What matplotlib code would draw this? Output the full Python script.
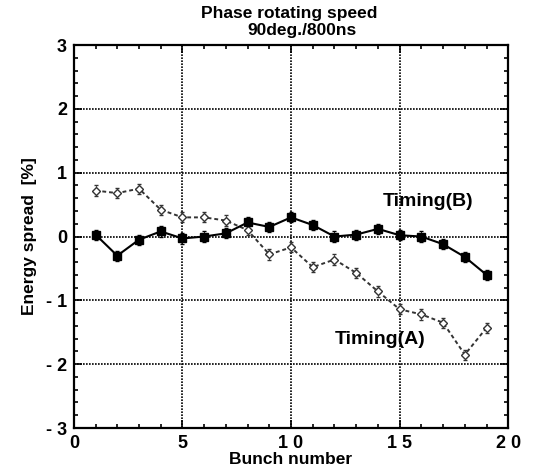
import matplotlib.pyplot as plt
from matplotlib.ticker import MultipleLocator

bunch = list(range(1, 20))
timing_a = [0.72, 0.68, 0.75, 0.42, 0.30, 0.30, 0.25, 0.10, -0.28, -0.17,
            -0.48, -0.36, -0.57, -0.86, -1.14, -1.22, -1.35, -1.85, -1.43]
timing_b = [0.03, -0.30, -0.05, 0.08, -0.03, 0.00, 0.05, 0.22, 0.15, 0.30,
            0.18, 0.00, 0.03, 0.12, 0.02, 0.00, -0.12, -0.32, -0.60]
err_a = [0.08] * 19
err_b = [0.08] * 19

plt.rcParams["font.family"] = ["Liberation Sans", "DejaVu Sans"]
plt.rcParams["font.weight"] = "bold"

fig = plt.figure(figsize=(5.35, 4.74), dpi=100)
ax = fig.add_axes([0.138, 0.097, 0.812, 0.808])

ax.errorbar(bunch, timing_a, yerr=err_a, color="#333333", ls=(0, (2, 1.5)), lw=1.4,
            marker="D", ms=4, mfc="white", mec="#333333", capsize=1.5, elinewidth=0.6)
ax.errorbar(bunch, timing_b, yerr=err_b, color="black", ls="-", lw=1.5,
            marker="s", ms=6, mfc="black", mec="black", capsize=1.5, elinewidth=0.6)

ax.set_xlim(0, 20)
ax.set_ylim(-3, 3)
ax.xaxis.set_minor_locator(MultipleLocator(1))
ax.yaxis.set_minor_locator(MultipleLocator(0.2))
ax.set_xticks([0, 5, 10, 15, 20], ["0", "5", "1 0", "1 5", "2 0"])
ax.set_yticks([-3, -2, -1, 0, 1, 2, 3], ["- 3", "- 2", "- 1", "0", "1", "2", "3"])
ax.tick_params(which="both", direction="in", top=True, right=True, labelsize=13, width=1.2)
ax.tick_params(which="major", length=6, pad=5)
ax.tick_params(which="minor", length=3)
ax.grid(True, which="major", color="black", ls=(0, (1, 0.8)), lw=1.2)
for s in ax.spines.values():
    s.set_linewidth(1.6)

ax.set_xlabel("Bunch number", fontsize=12.5, fontweight="bold", labelpad=0)
ax.set_ylabel("Energy spread  [%]", fontsize=12.5, fontweight="bold", labelpad=6)

ax.text(14.2, 0.55, "Timing(B)", fontsize=14, fontweight="bold", ha="left", va="center")
ax.text(12.0, -1.62, "Timing(A)", fontsize=14, fontweight="bold", ha="left", va="center")

fig.text(0.54, 0.972, "Phase rotating speed", fontsize=12.5, fontweight="bold", ha="center", va="center")
fig.text(0.565, 0.935, "90deg./800ns", fontsize=12.5, fontweight="bold", ha="center", va="center")

fig.savefig("out.png", dpi=100)
